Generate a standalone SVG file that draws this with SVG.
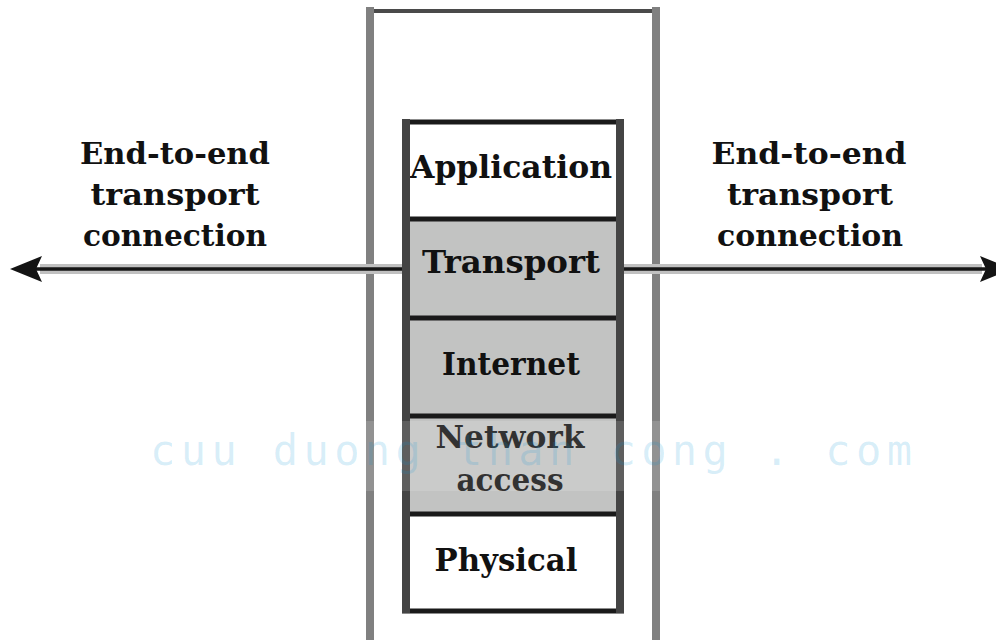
<svg xmlns="http://www.w3.org/2000/svg" width="996" height="640" viewBox="0 0 996 640">
  <style>
    .lbl { font-family: "DejaVu Serif", "Liberation Serif", serif; font-weight: bold; fill: #111; text-anchor: middle; }
    .side { font-size: 30px; }
    .layer { font-size: 31px; }
    .frame-side { stroke: #808080; stroke-width: 8; fill: none; }
    .frame-top { stroke: #4a4a4a; stroke-width: 4; fill: none; }
    .box-side { stroke: #444; stroke-width: 8; fill: none; }
    .box-rule { stroke: #1a1a1a; stroke-width: 5; fill: none; }
    .white { fill: #ffffff; }
    .shade { fill: #c2c3c2; }
    .halo { stroke: #c0c0c0; stroke-width: 10; fill: none; }
    .conn { stroke: #161616; stroke-width: 3.5; fill: none; marker-end: url(#head); }
    .wm { font-family: "DejaVu Sans Mono", "Liberation Mono", monospace; font-size: 42px; fill: #0a94d8; fill-opacity: 0.17; }
  </style>
  <defs>
    <marker id="head" markerUnits="userSpaceOnUse" viewBox="-8 -15 36 30" markerWidth="36" markerHeight="30" refX="0" refY="0" orient="auto">
      <path d="M26,0 L-6,-13 L0,0 L-6,13 Z" fill="#141414"/>
    </marker>
  </defs>
  <rect x="0" y="0" width="996" height="640" fill="#ffffff"/>

  <g id="host-frame">
    <rect x="370" y="11" width="286" height="640" fill="#ffffff"/>
    <line class="frame-top" x1="366" y1="11" x2="660" y2="11"/>
    <line class="frame-side" x1="370" y1="7" x2="370" y2="640"/>
    <line class="frame-side" x1="656" y1="7" x2="656" y2="640"/>
  </g>

  <g id="connectors">
    <line class="halo" x1="402" y1="269" x2="40" y2="269"/>
    <line class="halo" x1="624" y1="269" x2="982" y2="269"/>
    <line class="conn" x1="402" y1="269" x2="36" y2="269"/>
    <line class="conn" x1="624" y1="269" x2="986" y2="269"/>
  </g>

  <g id="layer-application">
    <rect class="white" x="406" y="122" width="214" height="98"/>
    <text class="lbl layer" x="511" y="178" textLength="202" lengthAdjust="spacingAndGlyphs">Application</text>
  </g>
  <g id="layer-transport">
    <rect class="shade" x="406" y="220" width="214" height="98"/>
    <text class="lbl layer" x="511" y="273" textLength="178" lengthAdjust="spacingAndGlyphs">Transport</text>
  </g>
  <g id="layer-internet">
    <rect class="shade" x="406" y="318" width="214" height="98"/>
    <text class="lbl layer" x="511" y="375" textLength="138" lengthAdjust="spacingAndGlyphs">Internet</text>
  </g>
  <g id="layer-network-access">
    <rect class="shade" x="406" y="416" width="214" height="98"/>
    <text class="lbl layer" x="510" y="448" textLength="149" lengthAdjust="spacingAndGlyphs">Network</text>
    <text class="lbl layer" x="510" y="491" textLength="107" lengthAdjust="spacingAndGlyphs">access</text>
  </g>
  <g id="layer-physical">
    <rect class="white" x="406" y="514" width="214" height="97"/>
    <text class="lbl layer" x="506" y="571" textLength="143" lengthAdjust="spacingAndGlyphs">Physical</text>
  </g>
  <g id="stack-outline">
    <line class="box-rule" x1="402" y1="122" x2="624" y2="122"/>
    <line class="box-rule" x1="402" y1="219" x2="624" y2="219"/>
    <line class="box-rule" x1="402" y1="318" x2="624" y2="318"/>
    <line class="box-rule" x1="402" y1="416" x2="624" y2="416"/>
    <line class="box-rule" x1="402" y1="514" x2="624" y2="514"/>
    <line class="box-rule" x1="402" y1="611" x2="624" y2="611"/>
    <line class="box-side" x1="406" y1="119" x2="406" y2="613"/>
    <line class="box-side" x1="620" y1="119" x2="620" y2="613"/>
  </g>

  <g id="label-left">
    <text class="lbl side" x="175" y="164" textLength="190" lengthAdjust="spacingAndGlyphs">End-to-end</text>
    <text class="lbl side" x="175" y="205" textLength="169" lengthAdjust="spacingAndGlyphs">transport</text>
    <text class="lbl side" x="175" y="246" textLength="184" lengthAdjust="spacingAndGlyphs">connection</text>
  </g>
  <g id="label-right">
    <text class="lbl side" x="809" y="164" textLength="195" lengthAdjust="spacingAndGlyphs">End-to-end</text>
    <text class="lbl side" x="810" y="205" textLength="166" lengthAdjust="spacingAndGlyphs">transport</text>
    <text class="lbl side" x="810" y="246" textLength="186" lengthAdjust="spacingAndGlyphs">connection</text>
  </g>

  <g id="watermark">
    <rect x="0" y="421" width="996" height="70" fill="#ffffff" fill-opacity="0.14"/>
    <text class="wm" x="150" y="465" textLength="762" lengthAdjust="spacing">cuu duong than cong . com</text>
  </g>
</svg>
